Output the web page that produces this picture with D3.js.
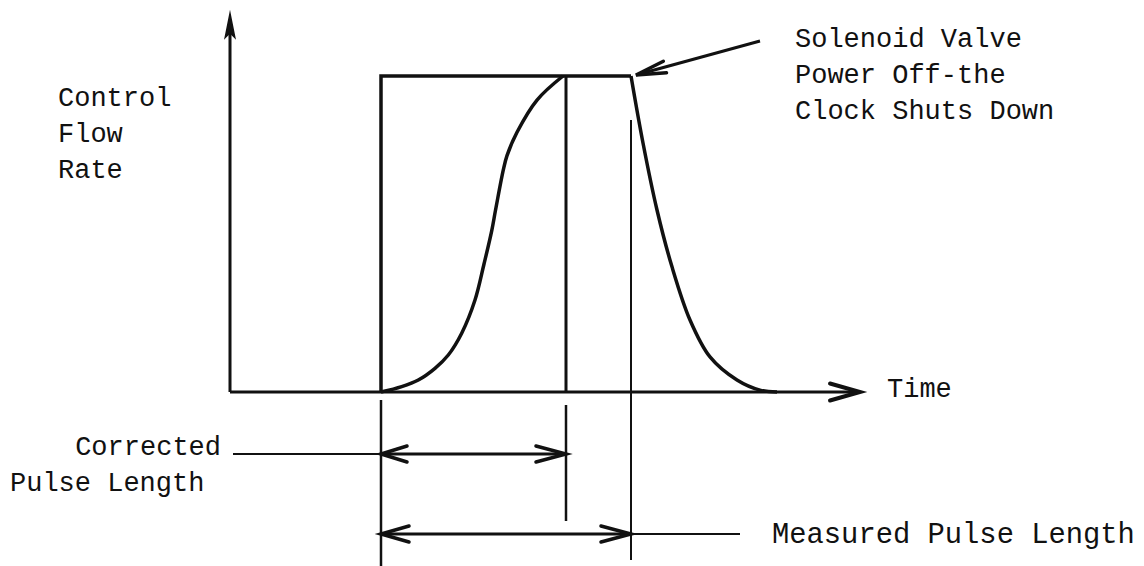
<!DOCTYPE html>
<html>
<head>
<meta charset="utf-8">
<script src="https://cdn.jsdelivr.net/npm/d3@7"></script>
<style>
  body { margin: 0; background: #fff; }
  text { font-family: 'Liberation Mono', 'Courier New', monospace; font-size: 27px; fill: #111; }
</style>
</head>
<body>
<div id="chart"></div>
<script>
// Data (time in arbitrary units, flow as fraction of full flow)
const pulseTimes = [15.1, 33.6, 40.1]; // pulse start, corrected end, measured end (power off)
const riseTime = [15.1, 17.17, 18.83, 20.5, 21.83, 23.17, 24.5, 25.4, 26.17, 26.55, 27.33, 27.7, 28.7, 30.7, 33.3];
const riseFlow = [0, 0.017, 0.038, 0.075, 0.117, 0.186, 0.291, 0.405, 0.51, 0.575, 0.703, 0.748, 0.822, 0.924, 1];
const decayTime = [40.1, 41.3, 42.7, 44.2, 46, 48, 50.7, 53, 54.7];
const decayFlow = [1, 0.788, 0.576, 0.396, 0.228, 0.111, 0.038, 0.006, 0];
const axisMax = [63, 1.21]; // time axis end, flow axis end
const yLabel = ['Control', 'Flow', 'Rate'];
const noteLines = ['Solenoid Valve', 'Power Off-the', 'Clock Shuts Down'];
const correctedLabel = ['Corrected', 'Pulse Length'];
const measuredLabel = 'Measured Pulse Length';
const xLabel = 'Time';

const width = 1144;
const height = 566;
const ink = '#111';

const xScale = d3.scaleLinear([0, 63], [230, 860]);
const yScale = d3.scaleLinear([0, 1], [392, 76]);

const svg = d3
  .select('#chart')
  .append('svg')
  .attr('width', width)
  .attr('height', height)
  .attr('viewBox', [0, 0, width, height]);

const [tStart, tCorr, tMeas] = pulseTimes;

// open arrow head, tip at (x, y), pointing along (dx, dy)
const openHead = (x, y, dx, dy, len, half) => {
  const n = Math.hypot(dx, dy);
  const ux = dx / n;
  const uy = dy / n;
  const bx = x - ux * len;
  const by = y - uy * len;
  return `M${bx - uy * half},${by + ux * half}L${x},${y}L${bx + uy * half},${by - ux * half}`;
};

const line = (x1, y1, x2, y2, w) =>
  svg
    .append('line')
    .attr('x1', x1)
    .attr('y1', y1)
    .attr('x2', x2)
    .attr('y2', y2)
    .attr('stroke', ink)
    .attr('stroke-width', w);

const head = (d, w) =>
  svg
    .append('path')
    .attr('d', d)
    .attr('fill', 'none')
    .attr('stroke', ink)
    .attr('stroke-width', w)
    .attr('stroke-linejoin', 'miter')
    .attr('stroke-linecap', 'round');

const x0 = xScale(0);
const y0 = yScale(0);

// y axis with filled head
line(x0, y0, x0, yScale(axisMax[1]) + 20, 3);
const yTip = yScale(axisMax[1]);
svg
  .append('path')
  .attr('d', `M${x0},${yTip}L${x0 - 6},${yTip + 30}L${x0},${yTip + 24}L${x0 + 6},${yTip + 30}Z`)
  .attr('fill', ink);

// x axis
line(x0, y0, xScale(axisMax[0]) - 4, y0, 3);
head(openHead(xScale(axisMax[0]), y0, 1, 0, 30, 8.5), 4);

// square command pulse
svg
  .append('path')
  .attr('d', `M${xScale(tStart)},${y0}L${xScale(tStart)},${yScale(1)}L${xScale(tMeas)},${yScale(1)}`)
  .attr('fill', 'none')
  .attr('stroke', ink)
  .attr('stroke-width', 3.5)
  .attr('stroke-linejoin', 'miter');

// flow curves
const flowLine = d3
  .line()
  .x((d) => xScale(d[0]))
  .y((d) => yScale(d[1]))
  .curve(d3.curveCatmullRom.alpha(0.5));

svg
  .append('path')
  .attr('d', flowLine(d3.zip(riseTime, riseFlow)))
  .attr('fill', 'none')
  .attr('stroke', ink)
  .attr('stroke-width', 3.5);

svg
  .append('path')
  .attr('d', flowLine(d3.zip(decayTime, decayFlow)))
  .attr('fill', 'none')
  .attr('stroke', ink)
  .attr('stroke-width', 3.5);

// extension lines
const corrY = 454;
const measY = 534;
line(xScale(tStart), y0 + 8, xScale(tStart), height, 2.5);
line(xScale(tCorr), yScale(1), xScale(tCorr), y0, 3);
line(xScale(tCorr), y0 + 13, xScale(tCorr), 521, 2.5);
line(xScale(tMeas), 120, xScale(tMeas), 560, 2);

// corrected pulse length dimension
line(xScale(tStart), corrY, xScale(tCorr), corrY, 3);
head(openHead(xScale(tStart), corrY, -1, 0, 26, 8), 3.5);
head(openHead(xScale(tCorr), corrY, 1, 0, 30, 8), 3.5);
line(233, corrY, xScale(tStart), corrY, 2);

// measured pulse length dimension
line(xScale(tStart), measY, xScale(tMeas), measY, 3);
head(openHead(xScale(tStart), measY, -1, 0, 28, 8), 3.5);
head(openHead(xScale(tMeas), measY, 1, 0, 30, 8), 3.5);
line(xScale(tMeas), measY, 740, measY, 2);

// callout arrow to power off point
const tipX = xScale(tMeas) + 5;
const tipY = yScale(1) - 1;
line(760, 41, tipX, tipY, 3);
head(openHead(tipX, tipY, tipX - 760, tipY - 41, 30, 6), 3.5);

// labels
svg
  .append('g')
  .selectAll('text')
  .data(yLabel)
  .join('text')
  .attr('x', 58)
  .attr('y', (d, i) => 106 + i * 36)
  .text((d) => d);

svg
  .append('g')
  .selectAll('text')
  .data(noteLines)
  .join('text')
  .attr('x', 795)
  .attr('y', (d, i) => 47 + i * 36)
  .text((d) => d);

svg.append('text').attr('x', 887).attr('y', 397).text(xLabel);

svg
  .append('text')
  .attr('x', 221)
  .attr('y', 455)
  .attr('text-anchor', 'end')
  .text(correctedLabel[0]);
svg.append('text').attr('x', 10).attr('y', 491).text(correctedLabel[1]);

svg
  .append('text')
  .attr('x', 772)
  .attr('y', 543)
  .style('font-size', '28.8px')
  .text(measuredLabel);
</script>
</body>
</html>
